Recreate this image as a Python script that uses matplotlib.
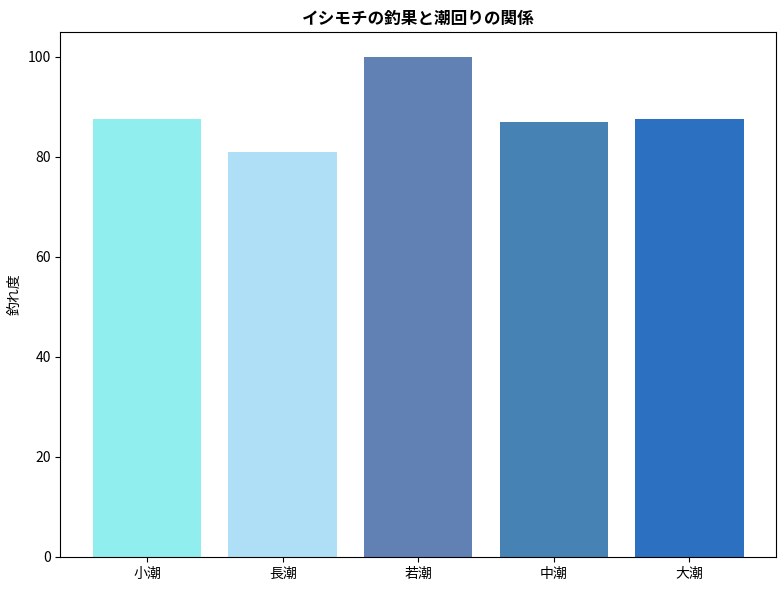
import matplotlib
matplotlib.use("Agg")
import matplotlib.pyplot as plt

plt.rcParams['font.family'] = ['Noto Sans CJK JP', 'DejaVu Sans']

tides = ["小潮", "長潮", "若潮", "中潮", "大潮"]
catch_rate = [87.5, 81.0, 100.0, 87.0, 87.5]
colors = ["#90EEEE", "#AEDFF7", "#6180B4", "#4682B4", "#2C71C1"]

fig = plt.figure(figsize=(7.84, 5.9), dpi=100)
ax = fig.add_axes([0.077, 0.056, 0.913, 0.89])
ax.bar(tides, catch_rate, color=colors, width=0.8)
ax.set_ylabel("釣れ度")
ax.set_title("イシモチの釣果と潮回りの関係", fontweight="bold")
fig.savefig("out.png", dpi=100)
